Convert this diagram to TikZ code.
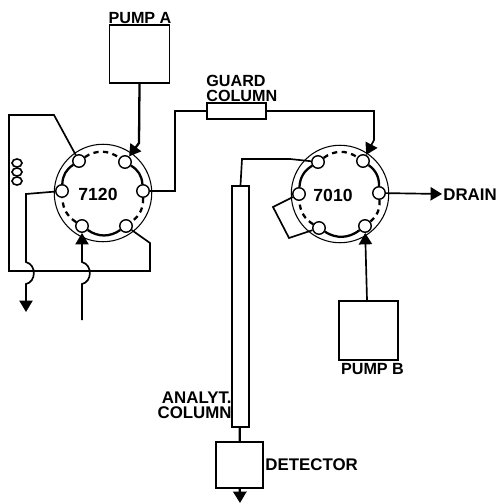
\documentclass[tikz,border=0pt]{standalone}
\usepackage{fontspec}
\setmainfont{Liberation Sans}
\usetikzlibrary{arrows.meta}

\tikzset{
    rotor/.style={circle, draw, line width=0.6pt, minimum size=1.95cm},
    port/.style={circle, draw, fill=white, line width=0.8pt, inner sep=0pt, minimum size=0.25cm},
    box/.style={rectangle, draw, fill=white, line width=1.1pt, inner sep=0pt},
    lab/.style={inner sep=0pt, font=\fontsize{9.6}{10}\selectfont\bfseries},
    smalllab/.style={inner sep=0pt, font=\fontsize{9.2}{10}\selectfont\bfseries},
    numlab/.style={inner sep=0pt, font=\fontsize{10}{11}\selectfont\bfseries},
    pipe/.style={line width=0.95pt},
    arrowpipe/.style={pipe, -{Triangle[length=6.5pt, width=7.5pt]}},
    groove/.style={line width=1.3pt},
    open/.style={line width=1.3pt, dash pattern=on 3pt off 2.5pt}
}

\begin{document}
\begin{tikzpicture}[x=0.02cm, y=-0.02cm]
    \useasboundingbox (0,0) rectangle (497,503);

    % Draw valves
    \node[rotor] (valveA) at (103,193) {};
    \node[rotor] (valveB) at (340,194) {};
    \node[numlab] (nameA) at (98,194) {7120};
    \node[numlab] (nameB) at (333,195) {7010};

    % Draw ports
    \node[port] (a1) at (79,161) {};
    \node[port] (a2) at (125,162) {};
    \node[port] (a3) at (143,191) {};
    \node[port] (a4) at (126,226) {};
    \node[port] (a5) at (82,226) {};
    \node[port] (a6) at (62,191) {};
    \node[port] (b1) at (318,162) {};
    \node[port] (b2) at (363,161) {};
    \node[port] (b3) at (379,193) {};
    \node[port] (b4) at (365,226) {};
    \node[port] (b5) at (319,228) {};
    \node[port] (b6) at (299,194) {};

    % Draw grooves
    \draw[open] (a1) to[bend left=35] (a2);
    \draw[groove] (a2) to[bend left=27] (a3);
    \draw[open] (a3) to[bend left=27] (a4);
    \draw[groove] (a4) to[bend left=35] (a5);
    \draw[open] (a5) to[bend left=27] (a6);
    \draw[groove] (a6) to[bend left=27] (a1);
    \draw[open] (b1) to[bend left=35] (b2);
    \draw[groove] (b2) to[bend left=27] (b3);
    \draw[open] (b3) to[bend left=27] (b4);
    \draw[groove] (b4) to[bend left=35] (b5);
    \draw[open] (b5) to[bend left=27] (b6);
    \draw[groove] (b6) to[bend left=27] (b1);

    % Draw boxes
    \node[box, minimum width=1.2cm, minimum height=1.16cm] (pumpA) at (139.5,54) {};
    \node[box, minimum width=1.18cm, minimum height=1.18cm] (pumpB) at (368.5,330.5) {};
    \node[box, minimum width=1.18cm, minimum height=0.32cm] (guard) at (236.5,111) {};
    \node[box, minimum width=0.34cm, minimum height=4.82cm] (analyt) at (240.5,306.5) {};
    \node[box, minimum width=0.94cm, minimum height=0.92cm] (detector) at (239.5,465) {};

    % Free ends
    \coordinate (waste) at (26,312);
    \coordinate (sample) at (82,320);
    \coordinate (drainend) at (442,194);
    \coordinate (detout) at (240,503);

    % Draw connections
    \draw[pipe] (a1) -- (54,115) -- (9,115) -- (9,271) -- (150,271) -- (150,243) -- (a4);
    \draw[arrowpipe] (a6) -- (26,194) -- (26,262) .. controls (37,265) and (36,282) .. (26,284) -- (waste);
    \draw[arrowpipe] (sample) -- (82,284) .. controls (92,282) and (93,265) .. (82,262) -- (a5);
    \draw[arrowpipe, line width=1.3pt] (pumpA.south) -- (139,143) -- (a2);
    \draw[pipe] (a3) -- (175,191) -- (175,111) -- (guard.west);
    \draw[arrowpipe] (guard.east) -- (374,111) -- (374,140) -- (b2);
    \draw[pipe] (b1) -- (290,159) -- (242,159) -- (analyt.north);
    \draw[arrowpipe] (b3) -- (drainend);
    \draw[pipe] (b6) -- (273,207) -- (289,238) -- (b5);
    \draw[arrowpipe] (pumpB.north -| 367,0) -- (b4);
    \draw[line width=1.3pt] (analyt) -- (detector);
    \draw[arrowpipe, line width=1.3pt] (detector) -- (detout);

    % Labels
    \node[smalllab] (labA) at (140,18) {PUMP A};
    \node[smalllab] (labB) at (372.5,369) {PUMP B};
    \node[smalllab, anchor=west] (labguard) at (206,81) {GUARD};
    \node[smalllab, anchor=west] (labcolumn) at (206,96) {COLUMN};
    \node[lab, anchor=east] (labanalyt) at (232,398) {ANALYT.};
    \node[lab, anchor=east] (labcolumnb) at (232,413) {COLUMN};
    \node[lab, anchor=west] (labdet) at (265,465) {DETECTOR};
    \node[lab, anchor=west] (labdrain) at (443,195) {DRAIN};

    % Coil
    \draw[line width=0.9pt] (17,163) ellipse (5 and 4);
    \draw[line width=0.9pt] (17,172) ellipse (5 and 4);
    \draw[line width=0.9pt] (17,181) ellipse (5 and 4);
\end{tikzpicture}
\end{document}
